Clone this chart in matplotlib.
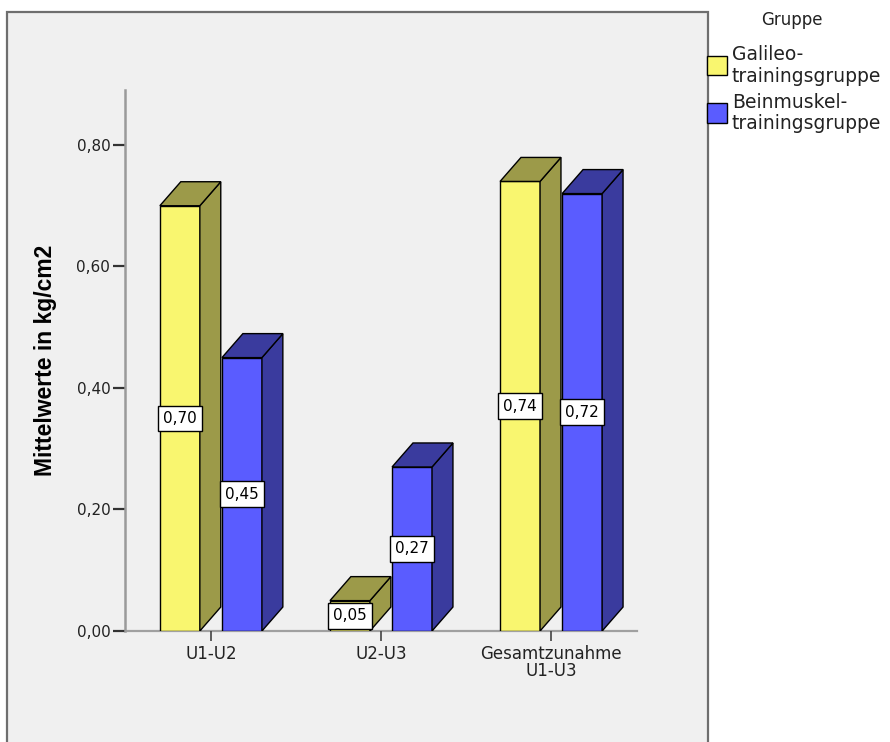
import matplotlib
matplotlib.use("Agg")
import matplotlib.pyplot as plt
from matplotlib.patches import Rectangle, Polygon

# Daten
kategorien = ["U1-U2", "U2-U3", "Gesamtzunahme\nU1-U3"]
galileo = [0.70, 0.05, 0.74]
beinmuskel = [0.45, 0.27, 0.72]
gruppen = ["Galileo-\ntrainingsgruppe", "Beinmuskel-\ntrainingsgruppe"]
y_ticks = [0.0, 0.2, 0.4, 0.6, 0.8]

# Farben (Vorderseite, Seite/Deckel)
farben = [("#F9F66F", "#9C9A49"), ("#5A5CFF", "#3A3B9E")]

plt.rcParams["font.family"] = ["DejaVu Sans"]

W, H = 890, 742
fig = plt.figure(figsize=(W / 100, H / 100), dpi=100)
fig.patch.set_facecolor("white")


def fx(px):
    return px / W


def fy(py):
    return 1 - py / H


# grauer Hintergrund
fig.patches.append(Rectangle((fx(7), fy(760)), fx(708) - fx(7), fy(12) - fy(760),
                             transform=fig.transFigure, facecolor="#F0F0F0",
                             edgecolor="#6E6E6E", linewidth=1.6, zorder=0))

ax = fig.add_axes([fx(125), fy(631), fx(637) - fx(125), fy(90) - fy(631)])
ax.set_zorder(1)
ax.set_facecolor("none")
ax.set_xlim(-0.505, 2.505)
ax.set_ylim(0, 0.8905)

breite = 0.235
tiefe_x = 0.123
tiefe_y = 0.0395
versatz = [-0.3, 0.065]


def balken(x0, v, vorne, seite):
    ax.add_patch(Rectangle((x0, 0), breite, v, facecolor=vorne, edgecolor="black",
                           linewidth=1.0, zorder=3))
    x1 = x0 + breite
    ax.add_patch(Polygon([(x1, 0), (x1 + tiefe_x, tiefe_y), (x1 + tiefe_x, v + tiefe_y), (x1, v)],
                         closed=True, facecolor=seite, edgecolor="black", linewidth=1.0, zorder=3))
    ax.add_patch(Polygon([(x0, v), (x0 + tiefe_x, v + tiefe_y), (x1 + tiefe_x, v + tiefe_y), (x1, v)],
                         closed=True, facecolor=seite, edgecolor="black", linewidth=1.0, zorder=3))
    ax.text(x0 + breite / 2, v / 2, f"{v:.2f}".replace(".", ","), ha="center", va="center",
            fontsize=11, zorder=6,
            bbox=dict(boxstyle="square,pad=0.35", facecolor="white", edgecolor="black", linewidth=1.0))


for i in range(len(kategorien)):
    for j, werte in enumerate([galileo, beinmuskel]):
        balken(i + versatz[j], werte[i], farben[j][0], farben[j][1])

# Achsen
for s in ["top", "right"]:
    ax.spines[s].set_visible(False)
ax.spines["left"].set_color("#9A9A9A")
ax.spines["left"].set_linewidth(1.8)
ax.spines["bottom"].set_color("#A0A0A0")
ax.spines["bottom"].set_linewidth(1.6)
ax.spines["bottom"].set_zorder(1)

ax.set_yticks(y_ticks)
ax.set_yticklabels([f"{t:.2f}".replace(".", ",") for t in y_ticks], fontsize=11, color="#222222")
ax.tick_params(axis="y", length=8.6, width=1.6, color="#333333", pad=2)
ax.set_xticks(range(len(kategorien)))
ax.set_xticklabels(kategorien, fontsize=12, color="#222222", linespacing=0.95)
ax.tick_params(axis="x", length=7, width=1.2, color="#444444", pad=3)

ax.set_ylabel("Mittelwerte in kg/cm2", fontsize=16.5, fontweight="bold",
              family=["Liberation Sans", "DejaVu Sans"])
ax.yaxis.set_label_coords(-0.133, 0.5)

# Legende
fig.text(fx(792), fy(20), "Gruppe", ha="center", va="center", fontsize=12, color="#222222")
legende_y = [65.5, 113]
for j, name in enumerate(gruppen):
    cy = legende_y[j]
    fig.patches.append(Rectangle((fx(707), fy(cy + 9.5)), fx(727) - fx(707), fy(cy - 9.5) - fy(cy + 9.5),
                                 transform=fig.transFigure, facecolor=farben[j][0],
                                 edgecolor="black", linewidth=1.0, zorder=2))
    fig.text(fx(732), fy(cy), name, ha="left", va="center", fontsize=13.5,
             linespacing=1.18, color="#222222")

fig.savefig("out.png", dpi=100)
